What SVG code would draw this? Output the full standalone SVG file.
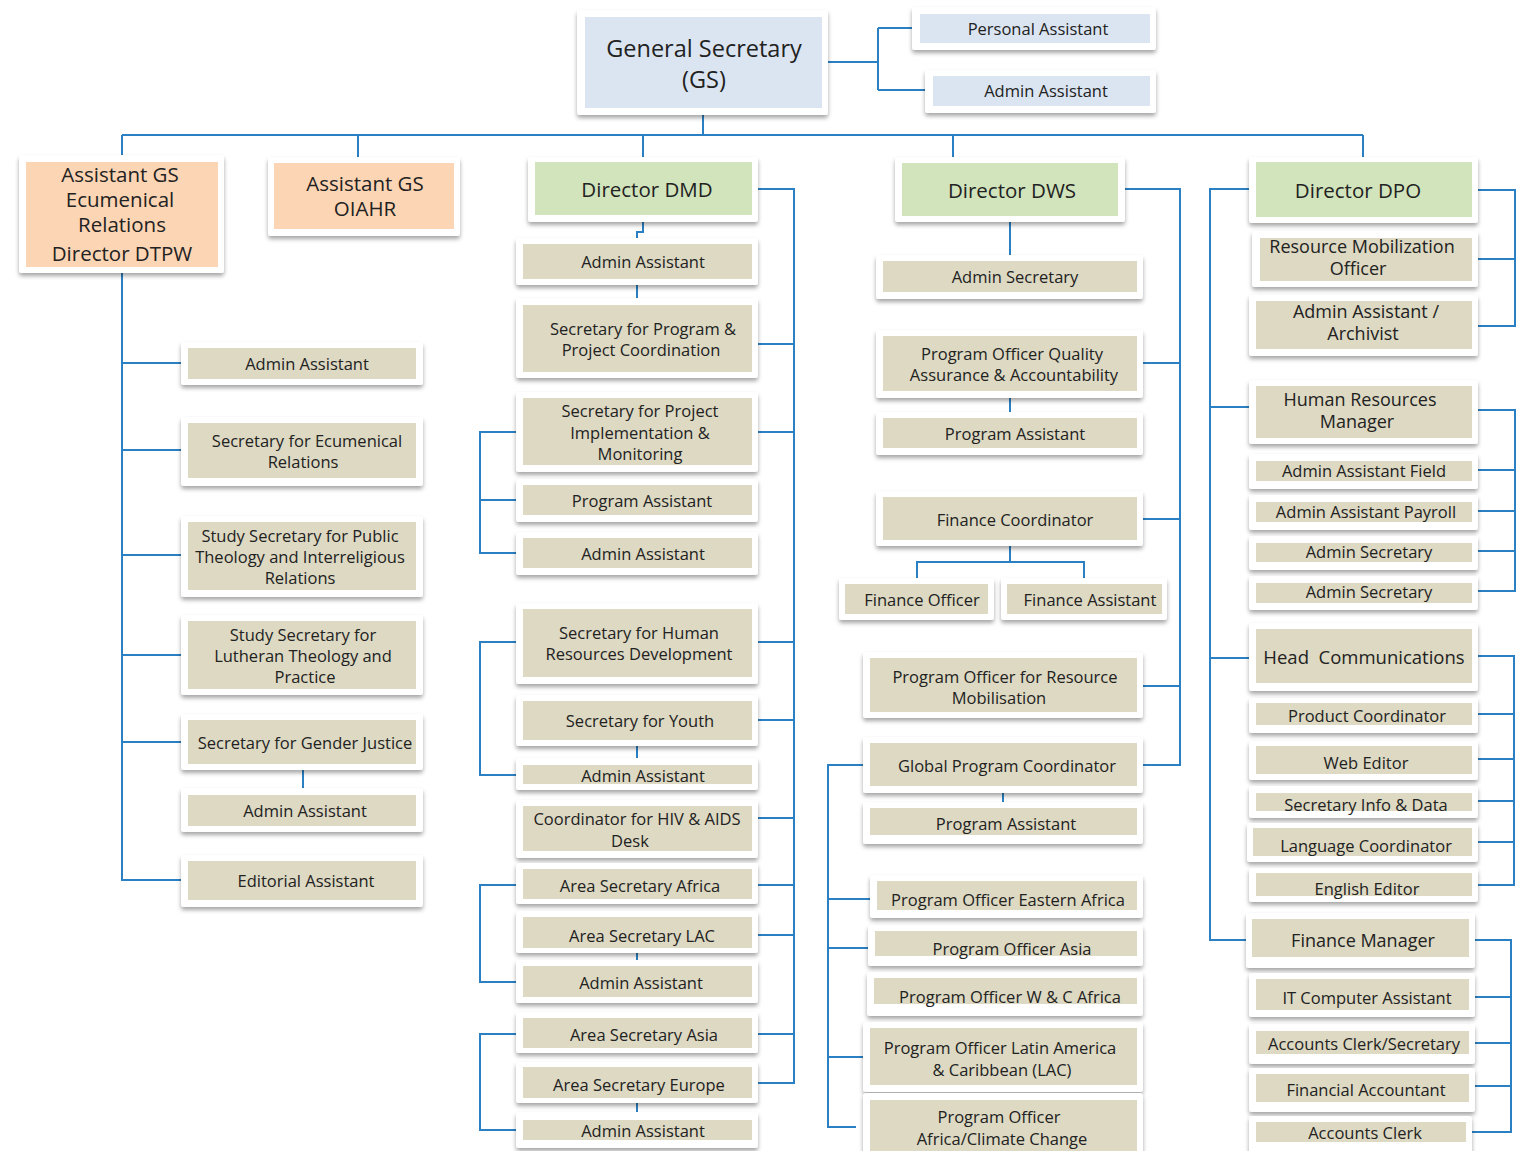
<svg xmlns="http://www.w3.org/2000/svg" width="1524" height="1151" viewBox="0 0 1524 1151">
<defs>
<filter id="sh" x="-10%" y="-20%" width="120%" height="160%">
<feDropShadow dx="0" dy="3" stdDeviation="2" flood-color="#000" flood-opacity="0.35"/>
</filter>
<style>
.o{fill:#fff;filter:url(#sh)}
.t{fill:#DDD9C3}
.g{fill:#D2E4BC}
.p{fill:#FCD5B4}
.b{fill:#DBE5F1}
text{font-family:"Open Sans","Liberation Sans",sans-serif;fill:#222;text-anchor:middle;dominant-baseline:central}
.s{font-size:16.5px}
.k{font-size:18px}
.m{font-size:20.5px}
.l{font-size:23.5px}
#connectors path{fill:none;stroke:#2A80C2;stroke-width:2}
</style>
</defs>
<rect width="1524" height="1151" fill="#fff"/>
<g id="connectors">
<path d="M828,62 H878 M878,28 V90 M878,28 H912 M878,90 H925"/>
<path d="M703,115 V135 M122,135 H1363 M122,135 V155 M358,135 V157 M643,135 V157 M953,135 V157 M1363,135 V157"/>
<path d="M122,273 V880 H181 M122,363 H181 M122,450 H181 M122,555 H181 M122,655 H181 M122,742 H181 M303,770 V788"/>
<path d="M643,222 V232 H637 V238 M637,285 V298 M758,189 H794 V1083 H758 M758,344 H794 M758,432 H794 M758,642 H794 M758,720 H794 M758,818 H794 M758,885 H794 M758,935 H794 M758,1034 H794"/>
<path d="M516,432 H480 V553 H516 M480,500 H516 M516,642 H480 V775 H516 M637,746 V758 M516,885 H480 V982 H516 M637,953 V960 M516,1034 H480 V1130 H516 M637,1103 V1112"/>
<path d="M1010,222 V255 M1010,398 V412 M1010,546 V562 M917,578 V562 H1084 V578 M1125,189 H1180 V765 H1143 M1143,363 H1180 M1143,519 H1180 M1143,686 H1180 M1003,793 V802"/>
<path d="M863,765 H828 V1127 H856 M828,899 H870 M828,948 H868 M828,1057 H863"/>
<path d="M1478,190 H1515 V326 H1478 M1478,259 H1515 M1249,189 H1210 V940 H1246 M1210,407 H1249 M1210,658 H1249"/>
<path d="M1478,410 H1515 V591 H1478 M1478,470 H1515 M1478,511 H1515 M1478,551 H1515"/>
<path d="M1478,656 H1514 V885 H1478 M1478,714 H1514 M1478,759 H1514 M1478,801 H1514 M1478,842 H1514"/>
<path d="M1475,940 H1511 V1132 H1472 M1475,997 H1511 M1475,1043 H1511 M1475,1086 H1511"/>
</g>

<g id="n-gs"><rect class="o" x="577" y="10" width="251" height="105" rx="3"/><rect class="b" x="585" y="17" width="237" height="91"/><text class="l" x="704" y="48">General Secretary</text><text class="l" x="704" y="78.5">(GS)</text></g>
<g id="n-gs-pa"><rect class="o" x="912" y="7" width="244" height="43" rx="3"/><rect class="b" x="920" y="14" width="230" height="29"/><text class="s" x="1038" y="28">Personal Assistant</text></g>
<g id="n-gs-aa"><rect class="o" x="925" y="70" width="231" height="43" rx="3"/><rect class="b" x="933" y="76" width="217" height="30"/><text class="s" x="1046" y="90">Admin Assistant</text></g>

<g id="n-ags-er"><rect class="o" x="19" y="155" width="205" height="118" rx="3"/><rect class="p" x="26" y="162" width="192" height="105"/><text class="m" x="120" y="174">Assistant GS</text><text class="m" x="120" y="199">Ecumenical</text><text class="m" x="122" y="224">Relations</text><text class="m" x="122" y="253">Director DTPW</text></g>
<g id="n-ags-oiahr"><rect class="o" x="268" y="157" width="192" height="79" rx="3"/><rect class="p" x="274" y="163" width="180" height="66"/><text class="m" x="365" y="183">Assistant GS</text><text class="m" x="365" y="208">OIAHR</text></g>
<g id="n-dmd"><rect class="o" x="528" y="157" width="230" height="65" rx="3"/><rect class="g" x="535" y="162" width="217" height="53"/><text class="m" x="647" y="189">Director DMD</text></g>
<g id="n-dws"><rect class="o" x="895" y="157" width="230" height="65" rx="3"/><rect class="g" x="902" y="163" width="216" height="53"/><text class="m" x="1012" y="190">Director DWS</text></g>
<g id="n-dpo"><rect class="o" x="1249" y="157" width="229" height="66" rx="3"/><rect class="g" x="1256" y="162" width="216" height="55"/><text class="m" x="1358" y="190">Director DPO</text></g>

<g id="n-dtpw-aa"><rect class="o" x="181" y="342" width="242" height="43" rx="3"/><rect class="t" x="188" y="348" width="228" height="31"/><text class="s" x="307" y="363">Admin Assistant</text></g>
<g id="n-dtpw-ser"><rect class="o" x="181" y="417" width="242" height="69" rx="3"/><rect class="t" x="188" y="423" width="228" height="55"/><text class="s" x="307" y="440">Secretary for Ecumenical</text><text class="s" x="303" y="461">Relations</text></g>
<g id="n-dtpw-ptir"><rect class="o" x="181" y="516" width="242" height="81" rx="3"/><rect class="t" x="188" y="522" width="228" height="68"/><text class="s" x="300" y="535">Study Secretary for Public</text><text class="s" x="300" y="556">Theology and Interreligious</text><text class="s" x="300" y="577">Relations</text></g>
<g id="n-dtpw-ltp"><rect class="o" x="181" y="615" width="242" height="80" rx="3"/><rect class="t" x="188" y="621" width="228" height="68"/><text class="s" x="303" y="634">Study Secretary for</text><text class="s" x="303" y="655">Lutheran Theology and</text><text class="s" x="305" y="676">Practice</text></g>
<g id="n-dtpw-gj"><rect class="o" x="181" y="714" width="242" height="56" rx="3"/><rect class="t" x="188" y="720" width="228" height="44"/><text class="s" x="305" y="742">Secretary for Gender Justice</text></g>
<g id="n-dtpw-aa2"><rect class="o" x="181" y="788" width="242" height="44" rx="3"/><rect class="t" x="188" y="795" width="228" height="31"/><text class="s" x="305" y="810">Admin Assistant</text></g>
<g id="n-dtpw-ed"><rect class="o" x="181" y="855" width="242" height="52" rx="3"/><rect class="t" x="188" y="861" width="228" height="39"/><text class="s" x="306" y="880">Editorial Assistant</text></g>

<g id="n-dmd-aa"><rect class="o" x="516" y="238" width="242" height="47" rx="3"/><rect class="t" x="523" y="244" width="229" height="35"/><text class="s" x="643" y="261">Admin Assistant</text></g>
<g id="n-dmd-ppc"><rect class="o" x="516" y="298" width="242" height="80" rx="3"/><rect class="t" x="523" y="305" width="229" height="67"/><text class="s" x="643" y="328">Secretary for Program &amp;</text><text class="s" x="641" y="349">Project Coordination</text></g>
<g id="n-dmd-pim"><rect class="o" x="516" y="392" width="242" height="80" rx="3"/><rect class="t" x="523" y="398" width="229" height="67"/><text class="s" x="640" y="410">Secretary for Project</text><text class="s" x="640" y="432">Implementation &amp;</text><text class="s" x="640" y="453">Monitoring</text></g>
<g id="n-dmd-pa"><rect class="o" x="516" y="479" width="242" height="43" rx="3"/><rect class="t" x="523" y="485" width="229" height="30"/><text class="s" x="642" y="500">Program Assistant</text></g>
<g id="n-dmd-aa2"><rect class="o" x="516" y="532" width="242" height="43" rx="3"/><rect class="t" x="523" y="538" width="229" height="30"/><text class="s" x="643" y="553">Admin Assistant</text></g>
<g id="n-dmd-hrd"><rect class="o" x="516" y="603" width="242" height="81" rx="3"/><rect class="t" x="523" y="609" width="229" height="68"/><text class="s" x="639" y="632">Secretary for Human</text><text class="s" x="639" y="653">Resources Development</text></g>
<g id="n-dmd-youth"><rect class="o" x="516" y="695" width="242" height="51" rx="3"/><rect class="t" x="523" y="701" width="229" height="39"/><text class="s" x="640" y="720">Secretary for Youth</text></g>
<g id="n-dmd-aa3"><rect class="o" x="516" y="758" width="242" height="32" rx="3"/><rect class="t" x="523" y="765" width="229" height="19"/><text class="s" x="643" y="775">Admin Assistant</text></g>
<g id="n-dmd-hiv"><rect class="o" x="516" y="800" width="242" height="58" rx="3"/><rect class="t" x="523" y="806" width="229" height="45"/><text class="s" x="637" y="818">Coordinator for HIV &amp; AIDS</text><text class="s" x="630" y="840">Desk</text></g>
<g id="n-dmd-africa"><rect class="o" x="516" y="863" width="242" height="41" rx="3"/><rect class="t" x="523" y="869" width="229" height="30"/><text class="s" x="640" y="885">Area Secretary Africa</text></g>
<g id="n-dmd-lac"><rect class="o" x="516" y="911" width="242" height="42" rx="3"/><rect class="t" x="523" y="917" width="229" height="31"/><text class="s" x="642" y="935">Area Secretary LAC</text></g>
<g id="n-dmd-aa4"><rect class="o" x="516" y="960" width="242" height="43" rx="3"/><rect class="t" x="523" y="966" width="229" height="31"/><text class="s" x="641" y="982">Admin Assistant</text></g>
<g id="n-dmd-asia"><rect class="o" x="516" y="1012" width="242" height="41" rx="3"/><rect class="t" x="523" y="1018" width="229" height="30"/><text class="s" x="644" y="1034">Area Secretary Asia</text></g>
<g id="n-dmd-europe"><rect class="o" x="516" y="1062" width="242" height="41" rx="3"/><rect class="t" x="523" y="1067" width="229" height="31"/><text class="s" x="639" y="1084">Area Secretary Europe</text></g>
<g id="n-dmd-aa5"><rect class="o" x="516" y="1112" width="242" height="36" rx="3"/><rect class="t" x="523" y="1120" width="229" height="20"/><text class="s" x="643" y="1130">Admin Assistant</text></g>

<g id="n-dws-as"><rect class="o" x="876" y="255" width="267" height="44" rx="3"/><rect class="t" x="883" y="261" width="254" height="31"/><text class="s" x="1015" y="276">Admin Secretary</text></g>
<g id="n-dws-qa"><rect class="o" x="876" y="330" width="267" height="68" rx="3"/><rect class="t" x="883" y="336" width="254" height="55"/><text class="s" x="1012" y="353">Program Officer Quality</text><text class="s" x="1014" y="374">Assurance &amp; Accountability</text></g>
<g id="n-dws-pa"><rect class="o" x="876" y="412" width="267" height="43" rx="3"/><rect class="t" x="883" y="418" width="254" height="30"/><text class="s" x="1015" y="433">Program Assistant</text></g>
<g id="n-dws-fc"><rect class="o" x="876" y="491" width="267" height="55" rx="3"/><rect class="t" x="883" y="497" width="254" height="43"/><text class="s" x="1015" y="519">Finance Coordinator</text></g>
<g id="n-dws-fo"><rect class="o" x="839" y="578" width="155" height="42" rx="3"/><rect class="t" x="845" y="584" width="143" height="30"/><text class="s" x="922" y="599">Finance Officer</text></g>
<g id="n-dws-fa"><rect class="o" x="1001" y="578" width="166" height="42" rx="3"/><rect class="t" x="1007" y="584" width="155" height="30"/><text class="s" x="1090" y="599">Finance Assistant</text></g>
<g id="n-dws-rm"><rect class="o" x="863" y="652" width="280" height="66" rx="3"/><rect class="t" x="870" y="658" width="267" height="54"/><text class="s" x="1005" y="676">Program Officer for Resource</text><text class="s" x="999" y="697">Mobilisation</text></g>
<g id="n-dws-gpc"><rect class="o" x="863" y="737" width="280" height="56" rx="3"/><rect class="t" x="870" y="743" width="267" height="43"/><text class="s" x="1007" y="765">Global Program Coordinator</text></g>
<g id="n-dws-pa2"><rect class="o" x="863" y="802" width="280" height="42" rx="3"/><rect class="t" x="870" y="808" width="267" height="27"/><text class="s" x="1006" y="823">Program Assistant</text></g>
<g id="n-dws-ea"><rect class="o" x="870" y="875" width="273" height="43" rx="3"/><rect class="t" x="877" y="881" width="260" height="29"/><text class="s" x="1008" y="899">Program Officer Eastern Africa</text></g>
<g id="n-dws-asia"><rect class="o" x="868" y="925" width="275" height="41" rx="3"/><rect class="t" x="875" y="931" width="262" height="25"/><text class="s" x="1012" y="948">Program Officer Asia</text></g>
<g id="n-dws-wca"><rect class="o" x="867" y="972" width="276" height="44" rx="3"/><rect class="t" x="874" y="978" width="263" height="26"/><text class="s" x="1010" y="996">Program Officer W &amp; C Africa</text></g>
<g id="n-dws-lac"><rect class="o" x="863" y="1022" width="280" height="70" rx="3"/><rect class="t" x="870" y="1028" width="267" height="57"/><text class="s" x="1000" y="1047">Program Officer Latin America</text><text class="s" x="1002" y="1069">&amp; Caribbean (LAC)</text></g>
<g id="n-dws-acc"><rect class="o" x="863" y="1093" width="280" height="70" rx="3"/><rect class="t" x="870" y="1100" width="267" height="60"/><text class="s" x="999" y="1116">Program Officer</text><text class="s" x="1002" y="1138">Africa/Climate Change</text></g>

<g id="n-dpo-rmo"><rect class="o" x="1252" y="231" width="226" height="56" rx="3"/><rect class="t" x="1260" y="238" width="212" height="43"/><text class="k" x="1362" y="245.5">Resource Mobilization</text><text class="k" x="1358" y="267.5">Officer</text></g>
<g id="n-dpo-aaa"><rect class="o" x="1249" y="295" width="229" height="61" rx="3"/><rect class="t" x="1256" y="301" width="216" height="48"/><text class="k" x="1366" y="311">Admin Assistant /</text><text class="k" x="1363" y="333">Archivist</text></g>
<g id="n-dpo-hrm"><rect class="o" x="1249" y="380" width="229" height="64" rx="3"/><rect class="t" x="1256" y="386" width="216" height="52"/><text class="k" x="1360" y="398.5">Human Resources</text><text class="k" x="1357" y="421">Manager</text></g>
<g id="n-dpo-aaf"><rect class="o" x="1249" y="454" width="229" height="35" rx="3"/><rect class="t" x="1256" y="461" width="216" height="20"/><text class="s" x="1364" y="470">Admin Assistant Field</text></g>
<g id="n-dpo-aap"><rect class="o" x="1249" y="495" width="229" height="35" rx="3"/><rect class="t" x="1256" y="502" width="216" height="20"/><text class="s" x="1366" y="511">Admin Assistant Payroll</text></g>
<g id="n-dpo-as1"><rect class="o" x="1249" y="536" width="229" height="34" rx="3"/><rect class="t" x="1256" y="543" width="216" height="19"/><text class="s" x="1369" y="551">Admin Secretary</text></g>
<g id="n-dpo-as2"><rect class="o" x="1249" y="576" width="229" height="34" rx="3"/><rect class="t" x="1256" y="583" width="216" height="20"/><text class="s" x="1369" y="591">Admin Secretary</text></g>
<g id="n-dpo-hc"><rect class="o" x="1249" y="623" width="229" height="68" rx="3"/><rect class="t" x="1256" y="629" width="216" height="54"/><text x="1364" y="656" style="font-size:18.5px;white-space:pre">Head  Communications</text></g>
<g id="n-dpo-pc"><rect class="o" x="1249" y="698" width="229" height="35" rx="3"/><rect class="t" x="1256" y="703" width="216" height="22"/><text class="s" x="1367" y="715">Product Coordinator</text></g>
<g id="n-dpo-we"><rect class="o" x="1249" y="741" width="229" height="39" rx="3"/><rect class="t" x="1256" y="746" width="216" height="28"/><text class="s" x="1366" y="762">Web Editor</text></g>
<g id="n-dpo-sid"><rect class="o" x="1249" y="786" width="229" height="32" rx="3"/><rect class="t" x="1256" y="793" width="216" height="18"/><text class="s" x="1366" y="804">Secretary Info &amp; Data</text></g>
<g id="n-dpo-lc"><rect class="o" x="1247" y="823" width="231" height="39" rx="3"/><rect class="t" x="1253" y="828" width="219" height="28"/><text class="s" x="1366" y="845">Language Coordinator</text></g>
<g id="n-dpo-ee"><rect class="o" x="1249" y="868" width="229" height="34" rx="3"/><rect class="t" x="1256" y="873" width="216" height="23"/><text class="s" x="1367" y="888">English Editor</text></g>
<g id="n-dpo-fm"><rect class="o" x="1246" y="913" width="229" height="55" rx="3"/><rect class="t" x="1252" y="919" width="217" height="38"/><text x="1363" y="940" style="font-size:18px">Finance Manager</text></g>
<g id="n-dpo-it"><rect class="o" x="1249" y="973" width="226" height="44" rx="3"/><rect class="t" x="1256" y="979" width="213" height="31"/><text class="s" x="1367" y="997">IT Computer Assistant</text></g>
<g id="n-dpo-acs"><rect class="o" x="1249" y="1024" width="226" height="40" rx="3"/><rect class="t" x="1256" y="1031" width="213" height="23"/><text class="s" x="1364" y="1043">Accounts Clerk/Secretary</text></g>
<g id="n-dpo-fa"><rect class="o" x="1249" y="1068" width="226" height="44" rx="3"/><rect class="t" x="1256" y="1074" width="213" height="28"/><text class="s" x="1366" y="1089">Financial Accountant</text></g>
<g id="n-dpo-ac"><rect class="o" x="1249" y="1116" width="223" height="38" rx="3"/><rect class="t" x="1256" y="1122" width="210" height="20"/><text class="s" x="1365" y="1132">Accounts Clerk</text></g>
</svg>
